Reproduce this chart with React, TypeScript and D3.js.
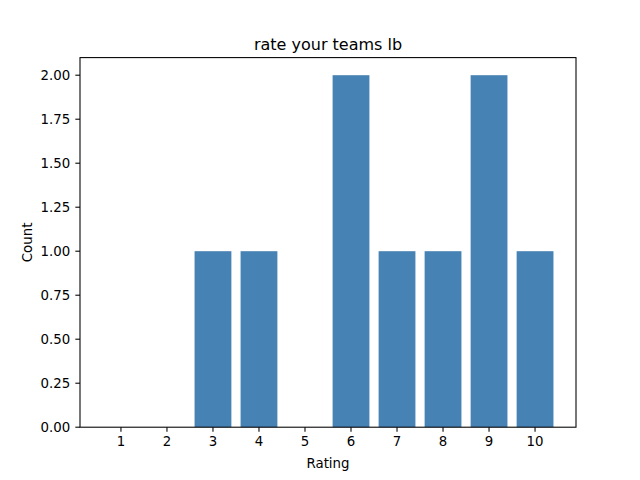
import React from "react";
import * as d3 from "d3";

const categories = ["1", "2", "3", "4", "5", "6", "7", "8", "9", "10"];
const counts = [0, 0, 1, 1, 0, 2, 1, 1, 2, 1];
const yTicks = [0, 0.25, 0.5, 0.75, 1.0, 1.25, 1.5, 1.75, 2.0];
const title = "rate your teams lb";
const xLabel = "Rating";
const yLabel = "Count";

const W = 640;
const H = 480;
const left = 80;
const right = 576;
const top = 57.6;
const bottom = 427.2;
const font = "DejaVu Sans, sans-serif";

export default function App() {
  const nums = categories.map((c) => +c);
  const x = d3.scaleLinear().domain([0.11, 10.89]).range([left, right]);
  const y = d3.scaleLinear().domain([0, 2.1]).range([bottom, top]);
  const bw = x(0.8) - x(0);
  const tickLen = 4.67;
  return (
    <div style={{ position: "fixed", left: 0, top: 0 }}>
      <svg width={W} height={H} style={{ display: "block", background: "#fff" }}>
        <rect x={0} y={0} width={W} height={H} fill="#fff" />
        {nums.map((n, i) => (
          <rect
            key={i}
            x={x(n) - bw / 2}
            y={y(counts[i])}
            width={bw}
            height={y(0) - y(counts[i])}
            fill="#4682b4"
          />
        ))}
        <rect
          x={left}
          y={top}
          width={right - left}
          height={bottom - top}
          fill="none"
          stroke="#000"
          strokeWidth={1.07}
        />
        {nums.map((n, i) => (
          <g key={"xt" + i}>
            <line x1={x(n)} x2={x(n)} y1={bottom} y2={bottom + tickLen} stroke="#000" strokeWidth={1.07} />
            <text x={x(n)} y={bottom + 19} textAnchor="middle" fontFamily={font} fontSize={13.33} fill="#000">
              {categories[i]}
            </text>
          </g>
        ))}
        {yTicks.map((t, i) => (
          <g key={"yt" + i}>
            <line x1={left - tickLen} x2={left} y1={y(t)} y2={y(t)} stroke="#000" strokeWidth={1.07} />
            <text
              x={left - 2 * tickLen - 0.5}
              y={y(t)}
              dy="0.36em"
              textAnchor="end"
              fontFamily={font}
              fontSize={13.33}
              fill="#000"
            >
              {t.toFixed(2)}
            </text>
          </g>
        ))}
        <text x={(left + right) / 2} y={top - 8} textAnchor="middle" fontFamily={font} fontSize={16} fill="#000">
          {title}
        </text>
        <text x={(left + right) / 2} y={467.5} textAnchor="middle" fontFamily={font} fontSize={13.33} fill="#000">
          {xLabel}
        </text>
        <text
          transform={`translate(31.5,${(top + bottom) / 2}) rotate(-90)`}
          textAnchor="middle"
          fontFamily={font}
          fontSize={13.33}
          fill="#000"
        >
          {yLabel}
        </text>
      </svg>
    </div>
  );
}
